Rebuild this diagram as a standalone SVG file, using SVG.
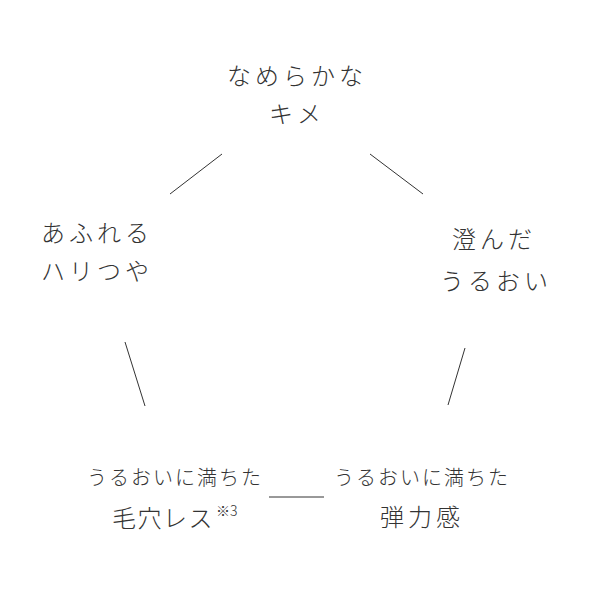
<svg xmlns="http://www.w3.org/2000/svg" width="590" height="592" viewBox="0 0 590 592">
<style>
text{font-family:"Noto Sans CJK JP","Noto Sans",sans-serif;font-weight:300;fill:#333;text-anchor:middle}
.l{font-size:24px;letter-spacing:4px}
.s{font-size:20px;letter-spacing:2px}
.sup{font-size:14px;letter-spacing:0}
.c{stroke:#333;stroke-width:1;fill:none}
</style>
<rect width="590" height="592" fill="#fff"/>
<g id="n1"><text class="l" x="297" y="85">なめらかな</text><text class="l" x="297" y="123">キメ</text></g>
<g id="n2"><text class="l" x="97" y="242">あふれる</text><text class="l" x="97" y="280">ハリつや</text></g>
<g id="n3"><text class="l" x="494" y="248">澄んだ</text><text class="l" x="496" y="290">うるおい</text></g>
<g id="n4"><text class="s" x="175" y="485">うるおいに満ちた</text><text class="l" x="112" y="527" style="text-anchor:start;letter-spacing:1.5px">毛穴レス<tspan class="sup" dx="2" dy="-11">※3</tspan></text></g>
<g id="n5"><text class="s" x="422" y="485">うるおいに満ちた</text><text class="l" x="422" y="526">弾力感</text></g>
<g id="connectors">
<line class="c" x1="170" y1="194" x2="222" y2="154"/>
<line class="c" x1="370" y1="154" x2="423" y2="194"/>
<line class="c" x1="125" y1="342" x2="145" y2="406"/>
<line class="c" x1="465" y1="348" x2="448" y2="405"/>
<line class="c" x1="269" y1="497" x2="324" y2="497" stroke="#666"/>
</g>
</svg>
